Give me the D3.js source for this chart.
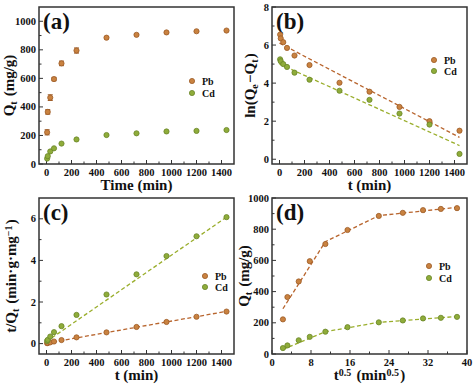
<!DOCTYPE html>
<html>
<head>
<meta charset="utf-8">
<script src="https://cdn.jsdelivr.net/npm/d3@7"></script>
<style>
  body { margin: 0; background: #fff; }
  svg text { font-family: "Liberation Serif", "Times New Roman", serif; font-weight: bold; fill: #111; }
</style>
</head>
<body>
<svg id="chart"></svg>
<script>
// sampling times (min) and their square roots
const times = [5, 10, 30, 60, 120, 240, 480, 720, 960, 1200, 1440];
const sqrtTimes = [2.24, 3.16, 5.48, 7.75, 10.95, 15.49, 21.91, 26.83, 30.98, 34.64, 37.95];

// (a) adsorption capacity Qt (mg/g)
const qtPb = [222, 365, 465, 595, 705, 795, 885, 905, 922, 930, 935];
const qtPbErr = [18, 16, 20, 12, 16, 18, 8, 6, 6, 5, 5];
const qtCd = [38, 55, 88, 110, 143, 172, 203, 215, 228, 232, 238];

// (b) pseudo-first-order ln(Qe-Qt)
const lnPb = [6.55, 6.35, 6.15, 5.85, 5.45, 4.95, 4.02, 3.55, 2.75, 2.0, 1.5];
const lnCd = [5.25, 5.15, 5.0, 4.85, 4.55, 4.18, 3.6, 3.12, 2.4, 1.82, 0.28];
const lnPbFit = [[0, 6.1], [1440, 1.15]];
const lnCdFit = [[0, 5.0], [1440, 0.72]];

// (c) pseudo-second-order t/Qt
const tqPb = [0.02, 0.03, 0.06, 0.1, 0.17, 0.3, 0.54, 0.8, 1.04, 1.29, 1.54];
const tqCd = [0.13, 0.18, 0.34, 0.55, 0.84, 1.38, 2.36, 3.33, 4.21, 5.16, 6.08];
const tqPbFit = [[0, 0.02], [1440, 1.55]];
const tqCdFit = [[0, 0.1], [1440, 6.08]];

// (d) intraparticle diffusion, piecewise fits
const ipdPbFit = [[2.24, 290], [10.95, 720], [21.91, 887], [37.95, 940]];
const ipdCdFit = [[2.24, 30], [10.95, 143], [21.91, 203], [37.95, 240]];

const seriesNames = ["Pb", "Cd"];

const colors = {
  Pb: { fill: "#c98240", stroke: "#9c5a26", line: "#b8652e" },
  Cd: { fill: "#8fac3a", stroke: "#6a8528", line: "#9aae2c" }
};

const W = 474, H = 387;
const svg = d3.select("#chart").attr("width", W).attr("height", H);

class Panel {
  constructor(cfg) {
    this.cfg = cfg;
    this.initVis();
  }

  initVis() {
    let vis = this;
    let c = vis.cfg;
    vis.g = svg.append("g");

    vis.x = d3.scaleLinear().domain(c.xDomain).range([c.left, c.right]);
    vis.y = d3.scaleLinear().domain(c.yDomain).range([c.bottom, c.top]);

    // inward ticks, bottom and left only
    let xMinor = d3.range(c.xTicks[0], c.xTicks[1] + 1e-9, c.xTicks[2] / 2);
    let yMinor = d3.range(c.yTicks[0], c.yTicks[1] + 1e-9, c.yTicks[2] / 2);
    let xMajor = d3.range(c.xTicks[0], c.xTicks[1] + 1e-9, c.xTicks[2]);
    let yMajor = d3.range(c.yTicks[0], c.yTicks[1] + 1e-9, c.yTicks[2]);
    let isMajor = (arr, d) => arr.some(m => Math.abs(m - d) < 1e-6);

    vis.g.selectAll(".xminor").data(xMinor).join("line")
      .attr("x1", d => vis.x(d)).attr("x2", d => vis.x(d))
      .attr("y1", c.bottom).attr("y2", d => c.bottom - (isMajor(xMajor, d) ? 4 : 2.5))
      .attr("stroke", "#333").attr("stroke-width", 1);
    vis.g.selectAll(".yminor").data(yMinor).join("line")
      .attr("y1", d => vis.y(d)).attr("y2", d => vis.y(d))
      .attr("x1", c.left).attr("x2", d => c.left + (isMajor(yMajor, d) ? 4 : 2.5))
      .attr("stroke", "#333").attr("stroke-width", 1);

    vis.g.selectAll(".xlab").data(xMajor).join("text")
      .attr("x", d => vis.x(d)).attr("y", c.bottom + 12)
      .attr("text-anchor", "middle").style("font-size", "10.5px")
      .text(d => d3.format("~g")(d));
    vis.g.selectAll(".ylab").data(yMajor).join("text")
      .attr("x", c.left - 3).attr("y", d => vis.y(d) + 3.5)
      .attr("text-anchor", "end").style("font-size", "10.5px")
      .text(d => d3.format("~g")(d));

    // axis titles
    let xt = vis.g.append("text")
      .attr("x", (c.left + c.right) / 2).attr("y", c.bottom + 26)
      .attr("text-anchor", "middle").style("font-size", "15px");
    c.xTitle.forEach(p => vis.addPart(xt, p));

    let yt = vis.g.append("text")
      .attr("transform", `translate(${c.yTitleX},${(c.top + c.bottom) / 2}) rotate(-90)`)
      .attr("text-anchor", "middle").style("font-size", "15px");
    c.yTitle.forEach(p => vis.addPart(yt, p));

    // panel letter
    vis.g.append("text")
      .attr("x", c.left + 4).attr("y", c.top + 22)
      .style("font-size", "23px")
      .text(c.letter);

    vis.renderVis();
  }

  addPart(textSel, p) {
    if (typeof p === "string") {
      textSel.append("tspan").text(p);
    } else {
      textSel.append("tspan")
        .attr("baseline-shift", p.sub ? "-25%" : "40%")
        .style("font-size", "10px")
        .text(p.sub || p.sup);
      textSel.append("tspan").text("\u200a");
    }
  }

  renderVis() {
    let vis = this;
    let c = vis.cfg;
    let line = d3.line().x(d => vis.x(d[0])).y(d => vis.y(d[1]));

    (c.fits || []).forEach(f => {
      vis.g.append("path")
        .datum(f.points)
        .attr("d", line)
        .attr("fill", "none")
        .attr("stroke", colors[f.name].line)
        .attr("stroke-width", 1.3)
        .attr("stroke-dasharray", "4,2.5");
    });

    c.series.forEach(s => {
      let pts = s.xs.map((xv, i) => ({ x: xv, y: s.ys[i], e: s.err ? s.err[i] : 0 }));
      if (s.err) {
        let eb = vis.g.selectAll(null).data(pts).join("g").attr("stroke", colors[s.name].stroke).attr("stroke-width", 1);
        eb.append("line")
          .attr("x1", d => vis.x(d.x)).attr("x2", d => vis.x(d.x))
          .attr("y1", d => vis.y(d.y - d.e)).attr("y2", d => vis.y(d.y + d.e));
        eb.append("line")
          .attr("x1", d => vis.x(d.x) - 2.5).attr("x2", d => vis.x(d.x) + 2.5)
          .attr("y1", d => vis.y(d.y - d.e)).attr("y2", d => vis.y(d.y - d.e));
        eb.append("line")
          .attr("x1", d => vis.x(d.x) - 2.5).attr("x2", d => vis.x(d.x) + 2.5)
          .attr("y1", d => vis.y(d.y + d.e)).attr("y2", d => vis.y(d.y + d.e));
      }
      vis.g.selectAll(null).data(pts).join("circle")
        .attr("cx", d => vis.x(d.x)).attr("cy", d => vis.y(d.y))
        .attr("r", 2.6)
        .attr("fill", colors[s.name].fill)
        .attr("stroke", colors[s.name].stroke)
        .attr("stroke-width", 0.8);
    });

    // legend
    seriesNames.forEach((n, i) => {
      let ly = c.legend[1] + i * c.legendGap;
      vis.g.append("circle")
        .attr("cx", c.legend[0]).attr("cy", ly).attr("r", 2.6)
        .attr("fill", colors[n].fill).attr("stroke", colors[n].stroke).attr("stroke-width", 0.8);
      vis.g.append("text")
        .attr("x", c.legend[0] + 10).attr("y", ly + 3.5)
        .style("font-size", "10px").text(n);
    });

    // frame
    vis.g.append("rect")
      .attr("x", c.left).attr("y", c.top)
      .attr("width", c.right - c.left).attr("height", c.bottom - c.top)
      .attr("fill", "none").attr("stroke", "#333").attr("stroke-width", 1.5);
  }
}

new Panel({
  letter: "(a)", left: 39, right: 234, top: 7, bottom: 164,
  xDomain: [-60, 1500], yDomain: [0, 1100],
  xTicks: [0, 1400, 200], yTicks: [0, 1000, 200],
  xTitle: ["Time (min)"], yTitle: ["Q", { sub: "t" }, " (mg/g)"], yTitleX: 14,
  series: [
    { name: "Pb", xs: times, ys: qtPb, err: qtPbErr },
    { name: "Cd", xs: times, ys: qtCd }
  ],
  legend: [192, 81], legendGap: 12
});

new Panel({
  letter: "(b)", left: 272, right: 467, top: 7, bottom: 164,
  xDomain: [-60, 1500], yDomain: [-0.25, 8],
  xTicks: [0, 1400, 200], yTicks: [0, 8, 2],
  xTitle: ["t (min)"], yTitle: ["ln(Q", { sub: "e" }, "\u2212Q", { sub: "t" }, ")"], yTitleX: 255,
  fits: [{ name: "Pb", points: lnPbFit }, { name: "Cd", points: lnCdFit }],
  series: [
    { name: "Pb", xs: times, ys: lnPb },
    { name: "Cd", xs: times, ys: lnCd }
  ],
  legend: [434, 60], legendGap: 11
});

new Panel({
  letter: "(c)", left: 39, right: 234, top: 198, bottom: 354,
  xDomain: [-60, 1500], yDomain: [-0.5, 7],
  xTicks: [0, 1400, 200], yTicks: [0, 6, 2],
  xTitle: ["t (min)"], yTitle: ["t/Q", { sub: "t" }, " (min\u00b7g\u00b7mg", { sup: "\u22121" }, ")"], yTitleX: 16,
  fits: [{ name: "Pb", points: tqPbFit }, { name: "Cd", points: tqCdFit }],
  series: [
    { name: "Pb", xs: times, ys: tqPb },
    { name: "Cd", xs: times, ys: tqCd }
  ],
  legend: [205, 276], legendGap: 11
});

new Panel({
  letter: "(d)", left: 272, right: 467, top: 198, bottom: 354,
  xDomain: [0, 40], yDomain: [0, 1000],
  xTicks: [0, 40, 8], yTicks: [0, 1000, 200],
  xTitle: ["t", { sup: "0.5" }, " (min", { sup: "0.5" }, ")"], yTitle: ["Q", { sub: "t" }, " (mg/g)"], yTitleX: 249,
  fits: [{ name: "Pb", points: ipdPbFit }, { name: "Cd", points: ipdCdFit }],
  series: [
    { name: "Pb", xs: sqrtTimes, ys: qtPb },
    { name: "Cd", xs: sqrtTimes, ys: qtCd }
  ],
  legend: [429, 266], legendGap: 12
});
</script>
</body>
</html>
